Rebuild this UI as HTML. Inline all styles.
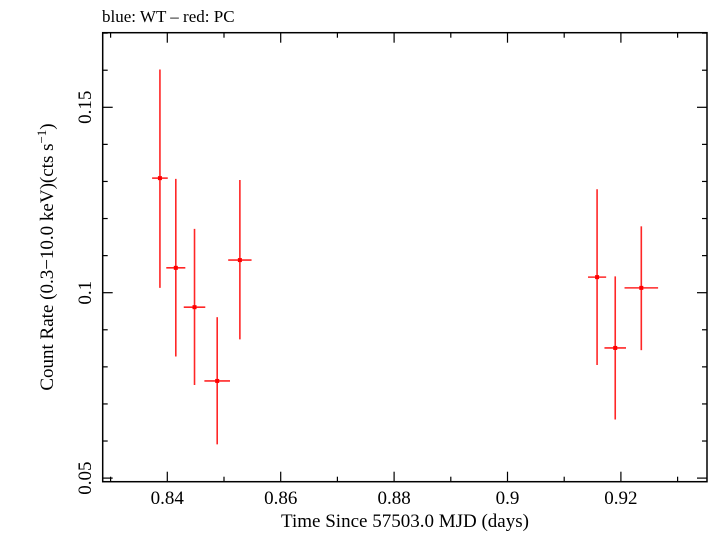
<!DOCTYPE html>
<html><head><meta charset="utf-8"><style>
body{margin:0;background:#fff;}
svg text{font-family:"Liberation Serif",serif;fill:#000;}
</style></head><body>
<svg id="chart" width="709" height="532" viewBox="0 0 709 532" xmlns="http://www.w3.org/2000/svg">
<text x="102" y="22" font-size="17">blue: WT – red: PC</text>
<g id="ticks"></g>
<g id="marks"></g>
<rect x="102.7" y="32.7" width="604.3" height="449" fill="none" stroke="#000" stroke-width="1.5"/>
<text x="405" y="527" font-size="19" text-anchor="middle">Time Since 57503.0 MJD (days)</text>
<text transform="translate(53,257) rotate(-90)" font-size="19" text-anchor="middle">Count Rate (0.3−10.0 keV)(cts s<tspan font-size="13" dy="-7">−1</tspan><tspan dy="7">)</tspan></text>
</svg>
<script>
const times=[0.8387,0.8415,0.8448,0.8488,0.8528,0.9158,0.9190,0.9236];
const timeErr=[0.00138,0.00168,0.0019,0.00226,0.00206,0.0016,0.0019,0.00296];
const rates=[0.1309,0.1067,0.0961,0.0762,0.1088,0.1042,0.0851,0.1013];
const rateHi=[0.1602,0.1307,0.1172,0.0934,0.1304,0.1279,0.1044,0.1179];
const rateLo=[0.1013,0.0828,0.0751,0.0591,0.0874,0.0805,0.0658,0.0845];
const xTicks=[0.84,0.86,0.88,0.9,0.92];
const xTickLabels=["0.84","0.86","0.88","0.9","0.92"];
const yTicks=[0.05,0.1,0.15];
const yTickLabels=["0.05","0.1","0.15"];
const L=102.7,R=707,T=32.7,B=481.7;
function xs(v){return 167.3+(v-0.84)*5670;}
function ys(v){return 292.7-(v-0.1)*3708;}
const NS="http://www.w3.org/2000/svg";
const tg=document.getElementById('ticks'),mg=document.getElementById('marks');
function mk(tag,attrs,parent){const e=document.createElementNS(NS,tag);for(const k in attrs)e.setAttribute(k,attrs[k]);parent.appendChild(e);return e;}
// x minor/major ticks
for(let i=83;i<=93;i++){const v=i/100;const x=xs(v);if(x<L||x>R)continue;const major=(i%2===0);const len=major?10:5;
const t1=mk('line',{x1:x,x2:x,y1:B,y2:B-len,stroke:'#000','stroke-width':1.2},tg);


const t2=mk('line',{x1:x,x2:x,y1:T,y2:T+len,stroke:'#000','stroke-width':1.2},tg);

}
xTicks.forEach((v,i)=>{const t=mk('text',{x:xs(v),y:504,'font-size':19,'text-anchor':'middle'},tg);t.textContent=xTickLabels[i];

});
for(let i=5;i<=17;i++){const v=i/100;const y=ys(v);if(y<T-0.5||y>B+0.5)continue;const major=(i%5===0);const len=major?10:5;
const t1=mk('line',{x1:L,x2:L+len,y1:y,y2:y,stroke:'#000','stroke-width':1.2},tg);


const t2=mk('line',{x1:R,x2:R-len,y1:y,y2:y,stroke:'#000','stroke-width':1.2},tg);

}
yTicks.forEach((v,i)=>{const y=ys(v);const t=mk('text',{transform:`translate(91,${y}) rotate(-90)`,'font-size':19,'text-anchor':'middle'},tg);t.textContent=yTickLabels[i];

});
times.forEach((tv,i)=>{const g=mk('g',{},mg);


const x=xs(tv),y=ys(rates[i]);
mk('line',{x1:x,x2:x,y1:ys(rateHi[i]),y2:ys(rateLo[i]),stroke:'#ff0000','stroke-width':1.6,'stroke-opacity':0.85},g);
mk('line',{x1:xs(tv-timeErr[i]),x2:xs(tv+timeErr[i]),y1:y,y2:y,stroke:'#ff0000','stroke-width':1.6,'stroke-opacity':0.85},g);
mk('rect',{x:x-2,y:y-2,width:4,height:4,fill:'#ff0000'},g);});
</script>
</body></html>
